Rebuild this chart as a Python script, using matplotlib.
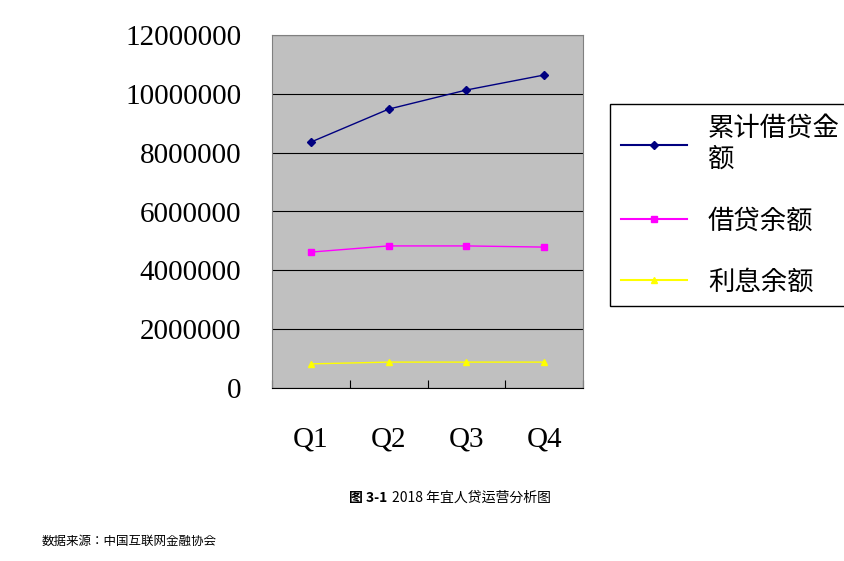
import matplotlib.pyplot as plt
from matplotlib.lines import Line2D
from matplotlib import font_manager

quarters = ["Q1", "Q2", "Q3", "Q4"]
cumulative = [8360000, 9480000, 10130000, 10640000]
balance = [4620000, 4830000, 4830000, 4790000]
interest = [820000, 880000, 880000, 880000]
series_names = ["累计借贷金\n额", "借贷余额", "利息余额"]

# pick whichever CJK family is actually registered
names = {f.name for f in font_manager.fontManager.ttflist}
cjk = next((n for n in ["Noto Sans CJK SC", "Noto Sans CJK JP", "Noto Sans CJK TC",
                        "Noto Sans CJK KR", "Noto Sans SC"] if n in names), None)
if cjk is None:
    cjk = next((n for n in names if "CJK" in n), "DejaVu Sans")
plt.rcParams["font.family"] = [cjk, "DejaVu Sans"]

W, H = 845, 561
fig = plt.figure(figsize=(W / 100, H / 100), dpi=100)
ax = fig.add_axes([272 / W, 1 - 388 / H, (583 - 272) / W, (388 - 35) / H])
ax.set_facecolor("#c0c0c0")

x = range(len(quarters))
ax.plot(x, cumulative, color="#000080", marker="D", markersize=4, lw=1)
ax.plot(x, balance, color="#ff00ff", marker="s", markersize=4, lw=1)
ax.plot(x, interest, color="#ffff00", marker="^", markersize=5, lw=1)

ax.set_xlim(-0.5, 3.5)
ax.set_ylim(0, 12000000)
ax.set_yticks(range(0, 12000001, 2000000))
ax.set_yticklabels([str(v) for v in range(0, 12000001, 2000000)],
                   fontsize=21, fontfamily="Liberation Serif")
ax.yaxis.grid(True, color="black", lw=0.8)
ax.set_axisbelow(True)
ax.set_xticks([-0.5, 0.5, 1.5, 2.5, 3.5])
ax.set_xticklabels([])
ax.set_xticks(list(x), minor=True)
ax.set_xticklabels(quarters, minor=True, fontsize=21, fontfamily="Liberation Serif")
ax.tick_params(axis="x", which="minor", length=0, pad=28)
ax.tick_params(axis="x", which="major", direction="in", length=6, top=False)
ax.tick_params(axis="y", length=0, pad=22)
for s in ["top", "right"]:
    ax.spines[s].set_color("#808080")
ax.spines["left"].set_color("#808080")

handles = [
    Line2D([], [], color="#000080", marker="D", markersize=4),
    Line2D([], [], color="#ff00ff", marker="s", markersize=4),
    Line2D([], [], color="#ffff00", marker="^", markersize=5),
]
leg = fig.legend(handles, series_names, loc="upper left",
                 bbox_to_anchor=(597 / W, 1 - 91 / H), fancybox=False,
                 edgecolor="black", handlelength=2.5, labelspacing=1.3,
                 prop={"family": cjk, "size": 19},
                 borderpad=0.4, framealpha=1)
leg.get_frame().set_linewidth(1)

fig.text(349 / W, 1 - 498 / H, "图 3-1", fontsize=10, fontweight="bold",
         fontfamily=cjk, va="center")
fig.text(392 / W, 1 - 498 / H, "2018 年宜人贷运营分析图", fontsize=10,
         fontfamily=cjk, va="center")
fig.text(42 / W, 1 - 541 / H, "数据来源：中国互联网金融协会", fontsize=9,
         fontfamily=cjk, va="center")

fig.savefig("out.png", dpi=100)
